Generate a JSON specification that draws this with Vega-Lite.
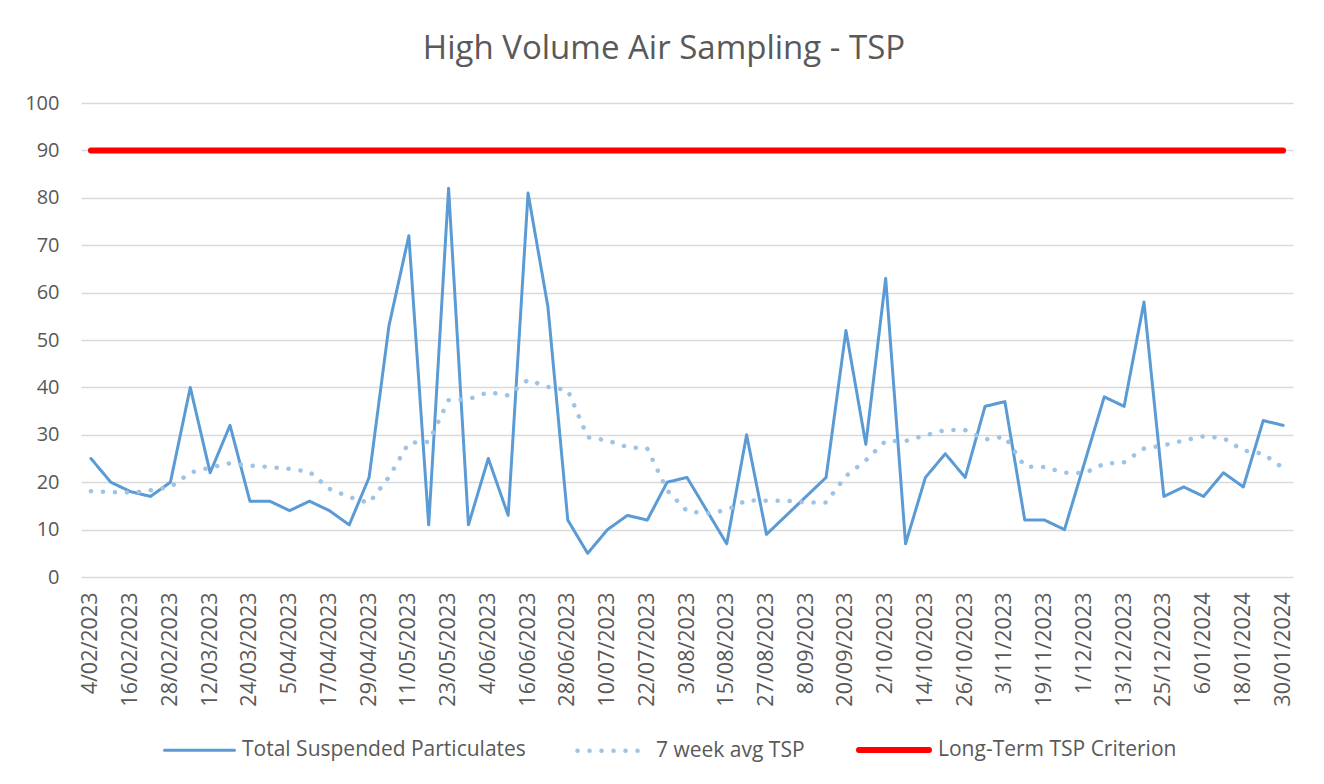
{
  "$schema": "https://vega.github.io/schema/vega-lite/v6.json",
  "autosize": "none",
  "width": 1212,
  "height": 474,
  "padding": {"left": 81, "top": 103, "right": 31, "bottom": 207},
  "background": "white",
  "config": {"view": {"stroke": null}},
  "title": {"text": "High Volume Air Sampling - TSP", "fontSize": 33, "font": "Open Sans", "fontWeight": "normal", "color": "#595959", "anchor": "middle", "dx": -23, "offset": 27},
  "data": {"values": [
    {"date": "4/02/2023", "tsp": 25, "avg": 18.1, "crit": 90},
    {"date": "10/02/2023", "tsp": 20, "avg": 17.9, "crit": 90},
    {"date": "16/02/2023", "tsp": 18, "avg": 17.8, "crit": 90},
    {"date": "22/02/2023", "tsp": 17, "avg": 18.3, "crit": 90},
    {"date": "28/02/2023", "tsp": 20, "avg": 19.0, "crit": 90},
    {"date": "6/03/2023", "tsp": 40, "avg": 22.0, "crit": 90},
    {"date": "12/03/2023", "tsp": 22, "avg": 23.1, "crit": 90},
    {"date": "18/03/2023", "tsp": 32, "avg": 24.0, "crit": 90},
    {"date": "24/03/2023", "tsp": 16, "avg": 23.5, "crit": 90},
    {"date": "30/03/2023", "tsp": 16, "avg": 23.2, "crit": 90},
    {"date": "5/04/2023", "tsp": 14, "avg": 22.8, "crit": 90},
    {"date": "11/04/2023", "tsp": 16, "avg": 22.2, "crit": 90},
    {"date": "17/04/2023", "tsp": 14, "avg": 18.6, "crit": 90},
    {"date": "23/04/2023", "tsp": 11, "avg": 16.9, "crit": 90},
    {"date": "29/04/2023", "tsp": 21, "avg": 15.6, "crit": 90},
    {"date": "5/05/2023", "tsp": 53, "avg": 21.1, "crit": 90},
    {"date": "11/05/2023", "tsp": 72, "avg": 28.3, "crit": 90},
    {"date": "17/05/2023", "tsp": 11, "avg": 28.5, "crit": 90},
    {"date": "23/05/2023", "tsp": 82, "avg": 37.3, "crit": 90},
    {"date": "29/05/2023", "tsp": 11, "avg": 37.5, "crit": 90},
    {"date": "4/06/2023", "tsp": 25, "avg": 39.0, "crit": 90},
    {"date": "10/06/2023", "tsp": 13, "avg": 38.3, "crit": 90},
    {"date": "16/06/2023", "tsp": 81, "avg": 41.6, "crit": 90},
    {"date": "22/06/2023", "tsp": 57, "avg": 40.1, "crit": 90},
    {"date": "28/06/2023", "tsp": 12, "avg": 39.4, "crit": 90},
    {"date": "4/07/2023", "tsp": 5, "avg": 29.5, "crit": 90},
    {"date": "10/07/2023", "tsp": 10, "avg": 28.8, "crit": 90},
    {"date": "16/07/2023", "tsp": 13, "avg": 27.4, "crit": 90},
    {"date": "22/07/2023", "tsp": 12, "avg": 27.1, "crit": 90},
    {"date": "28/07/2023", "tsp": 20, "avg": 18.3, "crit": 90},
    {"date": "3/08/2023", "tsp": 21, "avg": 13.9, "crit": 90},
    {"date": "9/08/2023", "tsp": 14, "avg": 13.4, "crit": 90},
    {"date": "15/08/2023", "tsp": 7, "avg": 14.1, "crit": 90},
    {"date": "21/08/2023", "tsp": 30, "avg": 16.2, "crit": 90},
    {"date": "27/08/2023", "tsp": 9, "avg": 16.1, "crit": 90},
    {"date": "2/09/2023", "tsp": 13, "avg": 16.1, "crit": 90},
    {"date": "8/09/2023", "tsp": 17, "avg": 15.7, "crit": 90},
    {"date": "14/09/2023", "tsp": 21, "avg": 15.7, "crit": 90},
    {"date": "20/09/2023", "tsp": 52, "avg": 21.3, "crit": 90},
    {"date": "26/09/2023", "tsp": 28, "avg": 24.6, "crit": 90},
    {"date": "2/10/2023", "tsp": 63, "avg": 28.7, "crit": 90},
    {"date": "8/10/2023", "tsp": 7, "avg": 28.7, "crit": 90},
    {"date": "14/10/2023", "tsp": 21, "avg": 29.9, "crit": 90},
    {"date": "20/10/2023", "tsp": 26, "avg": 31.0, "crit": 90},
    {"date": "26/10/2023", "tsp": 21, "avg": 31.0, "crit": 90},
    {"date": "30/10/2023", "tsp": 36, "avg": 29.0, "crit": 90},
    {"date": "3/11/2023", "tsp": 37, "avg": 29.6, "crit": 90},
    {"date": "11/11/2023", "tsp": 12, "avg": 23.3, "crit": 90},
    {"date": "19/11/2023", "tsp": 12, "avg": 23.2, "crit": 90},
    {"date": "25/11/2023", "tsp": 10, "avg": 22.0, "crit": 90},
    {"date": "1/12/2023", "tsp": 24, "avg": 21.9, "crit": 90},
    {"date": "7/12/2023", "tsp": 38, "avg": 23.9, "crit": 90},
    {"date": "13/12/2023", "tsp": 36, "avg": 24.2, "crit": 90},
    {"date": "19/12/2023", "tsp": 58, "avg": 27.1, "crit": 90},
    {"date": "25/12/2023", "tsp": 17, "avg": 27.8, "crit": 90},
    {"date": "31/12/2023", "tsp": 19, "avg": 28.8, "crit": 90},
    {"date": "6/01/2024", "tsp": 17, "avg": 29.7, "crit": 90},
    {"date": "12/01/2024", "tsp": 22, "avg": 29.3, "crit": 90},
    {"date": "18/01/2024", "tsp": 19, "avg": 26.7, "crit": 90},
    {"date": "24/01/2024", "tsp": 33, "avg": 26.0, "crit": 90},
    {"date": "30/01/2024", "tsp": 32, "avg": 23.0, "crit": 90}
  ]},
  "transform": [{"fold": ["tsp", "avg", "crit"], "as": ["series", "value"]}],
  "mark": {"type": "line", "strokeCap": "round", "strokeJoin": "round"},
  "encoding": {
    "x": {
      "field": "date", "type": "ordinal", "sort": null,
      "scale": {"type": "point", "padding": 0.5},
      "axis": {
        "values": ["4/02/2023","16/02/2023","28/02/2023","12/03/2023","24/03/2023","5/04/2023","17/04/2023","29/04/2023","11/05/2023","23/05/2023","4/06/2023","16/06/2023","28/06/2023","10/07/2023","22/07/2023","3/08/2023","15/08/2023","27/08/2023","8/09/2023","20/09/2023","2/10/2023","14/10/2023","26/10/2023","3/11/2023","19/11/2023","1/12/2023","13/12/2023","25/12/2023","6/01/2024","18/01/2024","30/01/2024"],
        "labelAngle": -90, "labelFontSize": 21.5, "labelFont": "Open Sans", "labelColor": "#595959",
        "labelPadding": 15, "labelOverlap": false, "labelBound": false,
        "domain": false, "ticks": false, "grid": false, "title": null
      }
    },
    "y": {
      "field": "value", "type": "quantitative",
      "scale": {"domain": [0, 100], "nice": false},
      "axis": {
        "values": [0, 10, 20, 30, 40, 50, 60, 70, 80, 90, 100],
        "grid": true, "gridColor": "#D9D9D9", "gridWidth": 1.3,
        "domain": false, "ticks": false, "title": null,
        "labelFontSize": 20, "labelFont": "Open Sans", "labelColor": "#595959", "labelPadding": 22
      }
    },
    "color": {
      "field": "series", "type": "nominal",
      "scale": {"domain": ["tsp", "avg", "crit"], "range": ["#5B9BD5", "#9DC3E6", "#FF0000"]},
      "legend": {
        "title": null, "orient": "none", "legendX": 82, "legendY": 609, "direction": "horizontal",
        "symbolType": "stroke", "symbolSize": 4900, "labelFontSize": 21, "labelFont": "Open Sans", "labelColor": "#595959",
        "labelOffset": 6, "columnPadding": 42, "padding": 0, "labelLimit": 0,
        "labelExpr": "datum.label == 'tsp' ? 'Total Suspended Particulates' : datum.label == 'avg' ? '7 week avg TSP' : 'Long-Term TSP Criterion'",
        "encode": {"symbols": {"update": {"strokeCap": {"value": "round"}}}}
      }
    },
    "strokeDash": {
      "field": "series", "type": "nominal",
      "scale": {"domain": ["tsp", "avg", "crit"], "range": [[1, 0], [0.1, 11.9], [1, 0]]},
      "legend": {
        "title": null, "orient": "none", "legendX": 82, "legendY": 609, "direction": "horizontal",
        "symbolType": "stroke", "symbolSize": 4900, "labelFontSize": 21, "labelFont": "Open Sans", "labelColor": "#595959",
        "labelOffset": 6, "columnPadding": 42, "padding": 0, "labelLimit": 0,
        "labelExpr": "datum.label == 'tsp' ? 'Total Suspended Particulates' : datum.label == 'avg' ? '7 week avg TSP' : 'Long-Term TSP Criterion'",
        "encode": {"symbols": {"update": {"strokeCap": {"value": "round"}}}}
      }
    },
    "strokeWidth": {
      "field": "series", "type": "nominal",
      "scale": {"domain": ["tsp", "avg", "crit"], "range": [3, 6, 5]},
      "legend": {
        "title": null, "orient": "none", "legendX": 82, "legendY": 609, "direction": "horizontal",
        "symbolType": "stroke", "symbolSize": 4900, "labelFontSize": 21, "labelFont": "Open Sans", "labelColor": "#595959",
        "labelOffset": 6, "columnPadding": 42, "padding": 0, "labelLimit": 0,
        "labelExpr": "datum.label == 'tsp' ? 'Total Suspended Particulates' : datum.label == 'avg' ? '7 week avg TSP' : 'Long-Term TSP Criterion'",
        "encode": {"symbols": {"update": {"strokeCap": {"value": "round"}}}}
      }
    }
  }
}
